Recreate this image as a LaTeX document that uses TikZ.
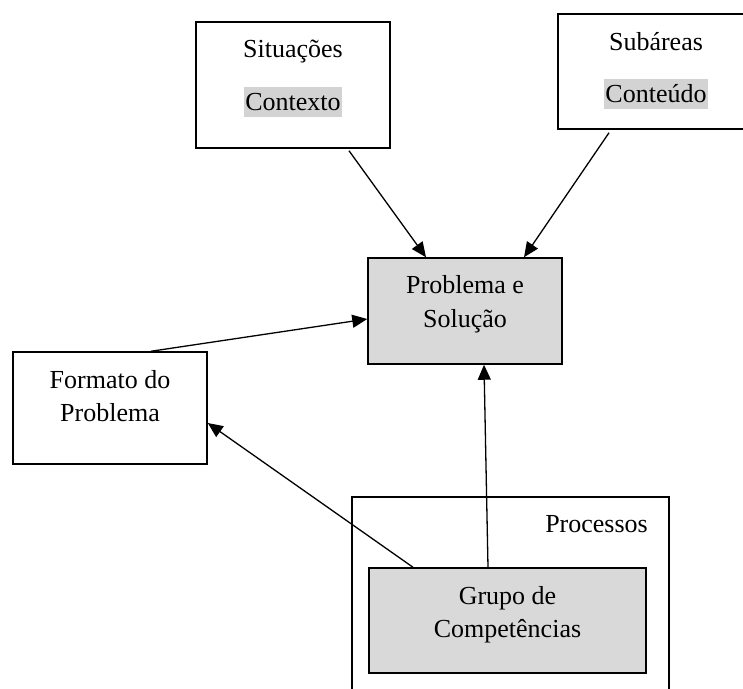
\documentclass[tikz,border=0pt]{standalone}
\usepackage{fontspec}
\setmainfont{Liberation Serif}
\usetikzlibrary{arrows.meta}
\definecolor{boxgray}{HTML}{D9D9D9}
\definecolor{hlgray}{HTML}{D3D3D3}
\begin{document}
\begin{tikzpicture}[x=1pt,y=-1pt,
  box/.style={draw=black,line width=1.5pt,inner sep=0pt,rectangle},
  lbl/.style={inner sep=0pt,anchor=base,font=\fontsize{26}{34}\selectfont},
  hl/.style={lbl,fill=hlgray,text height=23pt,text depth=7pt,inner xsep=1.5pt},
  arr/.style={line width=1.3pt,-{Triangle[length=15pt,width=13pt]}}]
\useasboundingbox (0,0) rectangle (743,688);
% boxes
\node[box,minimum width=194pt,minimum height=126pt] (sit) at (293,85) {};
\node[box,minimum width=196pt,minimum height=115pt] (sub) at (656,71.5) {};
\node[box,fill=boxgray,minimum width=194pt,minimum height=106pt] (prob) at (465,311) {};
\node[box,minimum width=194pt,minimum height=112pt] (fmt) at (110,408) {};
\node[box,minimum width=317pt,minimum height=210pt] (proc) at (510.5,602) {};
\node[box,fill=boxgray,minimum width=277pt,minimum height=105pt] (grp) at (507.5,620.5) {};
% texts
\node[lbl] (t1) at (293,57) {Situações};
\node[hl] (t2) at (293,110) {Contexto};
\node[lbl] (t3) at (656,50) {Subáreas};
\node[hl] (t4) at (656,102) {Conteúdo};
\node[lbl] (t5) at (465,293) {Problema e};
\node[lbl] (t6) at (465,327) {Solução};
\node[lbl] (t7) at (110,388) {Formato do};
\node[lbl] (t8) at (110,421) {Problema};
\node[lbl,anchor=base east] (t9) at (648,532) {Processos};
\node[lbl] (t10) at (507.5,604) {Grupo de};
\node[lbl] (t11) at (507.5,637) {Competências};
% connectors
\draw[arr] ([xshift=56pt,yshift=-2pt]sit.south) -- ([xshift=-39pt]prob.north);
\draw[arr] ([xshift=-47pt,yshift=-3pt]sub.south) -- ([xshift=59pt]prob.north);
\draw[arr] ([xshift=41pt]fmt.north) -- ([yshift=-8pt]prob.west);
\draw[arr] ([xshift=-19.5pt]grp.north) -- ([xshift=19pt]prob.south);
\draw[arr] ([xshift=-94.5pt]grp.north) -- ([yshift=-15pt]fmt.east);
\end{tikzpicture}
\end{document}
